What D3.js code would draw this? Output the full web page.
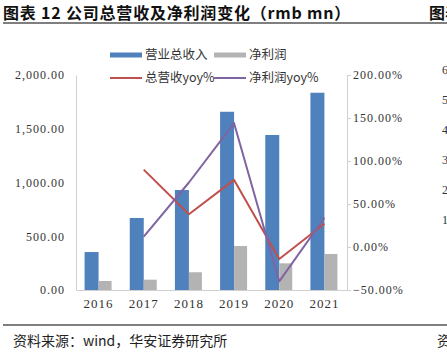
<!DOCTYPE html>
<html><head><meta charset="utf-8">
<script src="https://cdn.jsdelivr.net/npm/d3@7/dist/d3.min.js"></script>
<style>
html,body{margin:0;padding:0;background:#fff;overflow:hidden;}
svg{display:block;}
</style></head>
<body>
<script>
const years = ["2016","2017","2018","2019","2020","2021"];
const revenue = [353, 670, 930, 1658, 1442, 1835];
const netProfit = [84, 96, 165, 409, 248, 335];
const revenueYoy = [null, 0.90, 0.38, 0.78, -0.14, 0.27];
const profitYoy = [null, 0.12, 0.75, 1.44, -0.40, 0.34];
const leftTicks = [0, 500, 1000, 1500, 2000];
const rightTicks = [-0.5, 0, 0.5, 1, 1.5, 2];
const seriesNames = ["营业总收入", "净利润", "总营收yoy%", "净利润yoy%"];

const W = 447, H = 354;
const svg = d3.select("body").append("svg").attr("width", W).attr("height", H);

const cjk = "'Noto Sans CJK SC', 'Noto Sans', sans-serif";
const serif = "'Liberation Serif', 'DejaVu Serif', serif";

// Title
svg.append("text").attr("x", 3).attr("y", 19)
  .attr("font-family", cjk).attr("font-weight", "bold").attr("font-size", 16).attr("fill", "#111")
  .attr("letter-spacing", 0.8)
  .text("图表 12 公司总营收及净利润变化（rmb mn）");
svg.append("text").attr("x", 429).attr("y", 19)
  .attr("font-family", cjk).attr("font-weight", "bold").attr("font-size", 16).attr("fill", "#111")
  .text("图表");
svg.append("line").attr("x1", 3).attr("x2", W).attr("y1", 23).attr("y2", 23)
  .attr("stroke", "#555").attr("stroke-width", 1.3);

// Scales
const x = d3.scaleBand().domain(years).range([76, 347]).paddingInner(0).paddingOuter(0);
const yL = d3.scaleLinear().domain([0, 2000]).range([290, 75]);
const yR = d3.scaleLinear().domain([-0.5, 2]).range([290, 75]);

const axisColor = "#d0d0d0";

// Left axis
const gL = svg.append("g").attr("transform", "translate(76,0)")
  .call(d3.axisLeft(yL).tickValues(leftTicks).tickSize(0).tickPadding(11)
    .tickFormat(d => d3.format(",.2f")(d)));
gL.select(".domain").attr("stroke", axisColor);
gL.selectAll("text").attr("font-family", serif).attr("font-size", 12)
  .attr("letter-spacing", 1).attr("fill", "#333");

// Right axis
const gR = svg.append("g").attr("transform", "translate(347,0)")
  .call(d3.axisRight(yR).tickValues(rightTicks).tickSize(4).tickPadding(2)
    .tickFormat(d => d3.format(".2f")(d * 100) + "%"));
gR.select(".domain").attr("stroke", axisColor);
gR.selectAll(".tick line").attr("stroke", axisColor);
gR.selectAll("text").attr("font-family", serif).attr("font-size", 12)
  .attr("letter-spacing", 1).attr("fill", "#333");

// Bottom axis
const gB = svg.append("g").attr("transform", "translate(0,290)")
  .call(d3.axisBottom(x).tickSize(0).tickPadding(9));
gB.select(".domain").attr("stroke", axisColor);
gB.selectAll("text").attr("font-family", serif).attr("font-size", 13)
  .attr("letter-spacing", 1).attr("fill", "#333");

// Bars
const bw = 14, gw = 13;
svg.append("g").selectAll("rect").data(years).join("rect")
  .attr("x", d => x(d) + x.bandwidth() / 2 - bw)
  .attr("y", (d, i) => yL(revenue[i]))
  .attr("width", bw)
  .attr("height", (d, i) => yL(0) - yL(revenue[i]))
  .attr("fill", "#4f81bd");
svg.append("g").selectAll("rect").data(years).join("rect")
  .attr("x", d => x(d) + x.bandwidth() / 2)
  .attr("y", (d, i) => yL(netProfit[i]))
  .attr("width", gw)
  .attr("height", (d, i) => yL(0) - yL(netProfit[i]))
  .attr("fill", "#b3b3b3");

// Lines
function drawLine(vals, color) {
  const pts = years.map((y, i) => [y, vals[i]]).filter(p => p[1] !== null);
  const line = d3.line().x(p => x(p[0]) + x.bandwidth() / 2).y(p => yR(p[1]));
  svg.append("path").datum(pts).attr("d", line)
    .attr("fill", "none").attr("stroke", color).attr("stroke-width", 2)
    .attr("stroke-linejoin", "round");
}
drawLine(revenueYoy, "#c0504d");
drawLine(profitYoy, "#8064a2");

// Legend
const legend = [
  {name: seriesNames[0], type: "rect", color: "#4f81bd", x: 110, y: 55},
  {name: seriesNames[1], type: "rect", color: "#b3b3b3", x: 214, y: 55},
  {name: seriesNames[2], type: "line", color: "#c0504d", x: 110, y: 78},
  {name: seriesNames[3], type: "line", color: "#8064a2", x: 214, y: 78}
];
legend.forEach(l => {
  if (l.type === "rect") {
    svg.append("rect").attr("x", l.x).attr("y", l.y - 2.5).attr("width", 32).attr("height", 5).attr("fill", l.color);
  } else {
    svg.append("line").attr("x1", l.x).attr("x2", l.x + 32).attr("y1", l.y).attr("y2", l.y)
      .attr("stroke", l.color).attr("stroke-width", 2);
  }
  svg.append("text").attr("x", l.x + 35).attr("y", l.y).attr("dy", "0.35em")
    .attr("font-family", cjk).attr("font-size", 12.5).attr("fill", "#333").text(l.name);
});

// Footer
svg.append("line").attr("x1", 3).attr("x2", W).attr("y1", 325).attr("y2", 325)
  .attr("stroke", "#555").attr("stroke-width", 1.3);
svg.append("text").attr("x", 13).attr("y", 346)
  .attr("font-family", cjk).attr("font-size", 14).attr("fill", "#222")
  .text("资料来源：wind，华安证券研究所");
svg.append("text").attr("x", 437).attr("y", 346)
  .attr("font-family", cjk).attr("font-size", 14).attr("fill", "#222").text("资料");

// Partial next-chart axis labels cut off at right edge
["6","5","4","3","2","1"].forEach((t, i) => {
  svg.append("text").attr("x", 442).attr("y", 70 + i * 30).attr("dy", "0.35em")
    .attr("font-family", serif).attr("font-size", 12).attr("fill", "#333").text(t);
});
</script>
</body></html>
